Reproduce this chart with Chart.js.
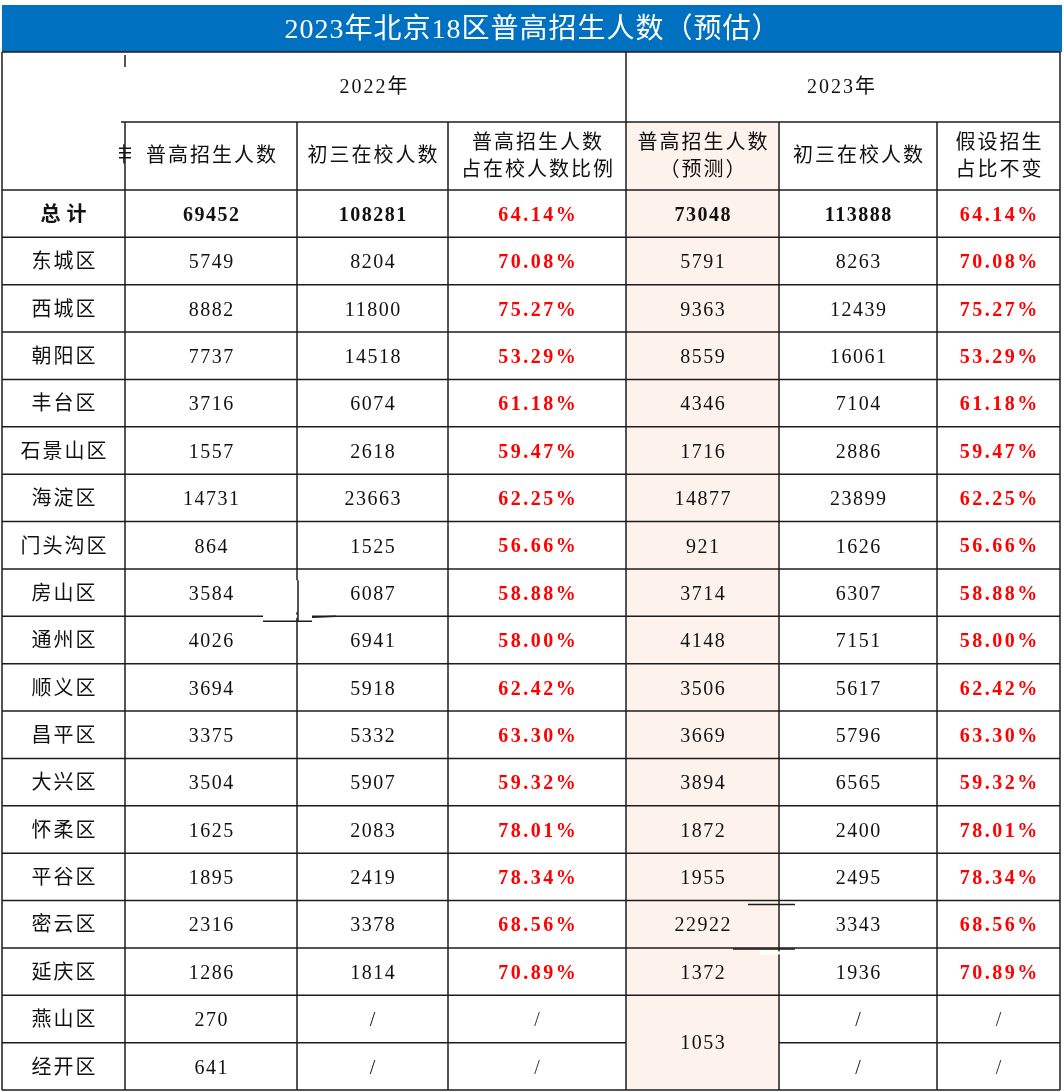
<!DOCTYPE html>
<html>
<head>
<meta charset="utf-8">
<script src="https://cdn.jsdelivr.net/npm/chart.js@4.4.0/dist/chart.umd.min.js"></script>
<style>
  html, body { margin: 0; padding: 0; background: #fff; }
  canvas { display: block; }
</style>
</head>
<body>
<canvas id="tableChart" width="1064" height="1092"></canvas>
<script>
const title = '2023年北京18区普高招生人数（预估）';
const yearLabels = ['2022年', '2023年'];
const columnHeaders = [
  [],
  ['普高招生人数'],
  ['初三在校人数'],
  ['普高招生人数', '占在校人数比例'],
  ['普高招生人数', '（预测）'],
  ['初三在校人数'],
  ['假设招生', '占比不变']
];
const districts = ['总计', '东城区', '西城区', '朝阳区', '丰台区', '石景山区', '海淀区', '门头沟区', '房山区', '通州区', '顺义区', '昌平区', '大兴区', '怀柔区', '平谷区', '密云区', '延庆区', '燕山区', '经开区'];
const enroll2022 = [69452, 5749, 8882, 7737, 3716, 1557, 14731, 864, 3584, 4026, 3694, 3375, 3504, 1625, 1895, 2316, 1286, 270, 641];
const students2022 = [108281, 8204, 11800, 14518, 6074, 2618, 23663, 1525, 6087, 6941, 5918, 5332, 5907, 2083, 2419, 3378, 1814, null, null];
const ratio2022 = [64.14, 70.08, 75.27, 53.29, 61.18, 59.47, 62.25, 56.66, 58.88, 58.00, 62.42, 63.30, 59.32, 78.01, 78.34, 68.56, 70.89, null, null];
// last value is shared by 燕山区 + 经开区 (merged cell)
const enroll2023 = [73048, 5791, 9363, 8559, 4346, 1716, 14877, 921, 3714, 4148, 3506, 3669, 3894, 1872, 1955, 22922, 1372, 1053];
const students2023 = [113888, 8263, 12439, 16061, 7104, 2886, 23899, 1626, 6307, 7151, 5617, 5796, 6565, 2400, 2495, 3343, 1936, null, null];
const ratio2023 = [64.14, 70.08, 75.27, 53.29, 61.18, 59.47, 62.25, 56.66, 58.88, 58.00, 62.42, 63.30, 59.32, 78.01, 78.34, 68.56, 70.89, null, null];

// layout (scale units)
const colEdges = [2, 125, 297, 448, 626, 779, 937, 1060];
const titleTop = 5, headTop = 52, headMid = 122, bodyTop = 190, bodyBottom = 1090;
const rowH = (bodyBottom - bodyTop) / districts.length;

const FONT = '"Liberation Serif", "Noto Sans CJK SC", serif';
const LINE = '#1c1c1c';

const fmtNum = v => v === null || v === undefined ? '/' : String(v);
const fmtPct = v => v === null || v === undefined ? '/' : v.toFixed(2) + '%';

const tablePlugin = {
  id: 'tablePlugin',
  afterDraw(chart) {
    const ctx = chart.ctx;
    const xs = chart.scales.x, ys = chart.scales.y;
    const X = v => xs.getPixelForValue(v);
    const Y = v => ys.getPixelForValue(v);
    const rowTop = i => bodyTop + i * rowH;
    const colMid = c => (colEdges[c] + colEdges[c + 1]) / 2;

    ctx.save();

    // title bar
    ctx.fillStyle = '#0070c0';
    ctx.fillRect(X(colEdges[0]), Y(titleTop), X(colEdges[7] + 2) - X(colEdges[0]), Y(headTop) - Y(titleTop));

    // highlighted forecast column
    ctx.fillStyle = '#fdf3ec';
    ctx.fillRect(X(colEdges[4]), Y(headMid), X(colEdges[5]) - X(colEdges[4]), Y(bodyBottom) - Y(headMid));

    const text = (s, x, y, opt = {}) => {
      ctx.font = `${opt.weight || 'normal'} ${opt.size || 20}px ${FONT}`;
      ctx.fillStyle = opt.color || '#111';
      ctx.letterSpacing = (opt.spacing || 0) + 'px';
      ctx.textAlign = 'center';
      ctx.textBaseline = 'middle';
      ctx.fillText(s, X(x) + (opt.spacing || 0) / 2, Y(y));
    };

    // title
    text(title, 532, 31, { size: 28, color: '#ffffff', spacing: 1 });

    // year headers
    text(yearLabels[0], (colEdges[1] + colEdges[4]) / 2 - 2, 88, { size: 20, spacing: 2 });
    text(yearLabels[1], (colEdges[4] + colEdges[7]) / 2 - 2, 88, { size: 20, spacing: 2 });

    // column headers
    columnHeaders.forEach((lines, c) => {
      if (!lines.length) return;
      const mid = (headMid + bodyTop) / 2 + 1;
      if (lines.length === 1) {
        text(lines[0], colMid(c), mid, { size: 20, spacing: 2 });
      } else {
        text(lines[0], colMid(c), mid - 13, { size: 20, spacing: 2 });
        text(lines[1], colMid(c), mid + 14, { size: 20, spacing: 2 });
      }
    });

    // clipped glyph left over at the edge of the first header cell
    ctx.save();
    ctx.beginPath();
    ctx.rect(X(119), Y(140), X(131) - X(119), 32);
    ctx.clip();
    text('丰', 124, 157, { size: 20 });
    ctx.restore();

    // body rows
    districts.forEach((name, i) => {
      const y = rowTop(i) + rowH / 2 + 2;
      const bold = i === 0;
      const w = bold ? 'bold' : 'normal';
      text(name, colMid(0), y, { weight: w, spacing: bold ? 6 : 2 });
      text(fmtNum(enroll2022[i]), colMid(1), y, { weight: w, spacing: 1.5 });
      text(fmtNum(students2022[i]), colMid(2), y, { weight: w, spacing: 1.5 });
      const r1 = ratio2022[i] !== null;
      text(fmtPct(ratio2022[i]), colMid(3), y, { color: r1 ? '#ff0000' : '#333', weight: r1 ? 'bold' : 'normal', spacing: r1 ? 2.5 : 0 });
      if (i < enroll2023.length) {
        const merged = i === enroll2023.length - 1 && districts.length > enroll2023.length;
        const yy = merged ? rowTop(i) + rowH + 1 : y;
        text(fmtNum(enroll2023[i]), colMid(4), yy, { weight: w, spacing: 1.5 });
      }
      text(fmtNum(students2023[i]), colMid(5), y, { weight: w, spacing: 1.5 });
      const r2 = ratio2023[i] !== null;
      text(fmtPct(ratio2023[i]), colMid(6), y, { color: r2 ? '#ff0000' : '#333', weight: r2 ? 'bold' : 'normal', spacing: r2 ? 2.5 : 0 });
    });

    // grid
    ctx.strokeStyle = LINE;
    ctx.lineWidth = 1.5;
    const line = (x1, y1, x2, y2) => {
      ctx.beginPath();
      ctx.moveTo(X(x1), Y(y1));
      ctx.lineTo(X(x2), Y(y2));
      ctx.stroke();
    };
    // outer frame
    line(colEdges[0], headTop, colEdges[7], headTop);
    line(colEdges[0], headTop, colEdges[0], bodyBottom);
    line(colEdges[7], headTop, colEdges[7], bodyBottom);
    line(colEdges[0], bodyBottom, colEdges[7], bodyBottom);
    // header split
    line(colEdges[4], headTop, colEdges[4], headMid);
    line(colEdges[1], headTop + 3, colEdges[1], headTop + 15);
    line(colEdges[1] - 4, headMid, colEdges[7], headMid);
    for (let c = 1; c < 7; c++) line(colEdges[c], headMid, colEdges[c], bodyBottom);
    // row lines
    for (let i = 0; i < districts.length; i++) {
      const yl = rowTop(i);
      if (i === enroll2023.length) {
        line(colEdges[0], yl, colEdges[4], yl);
        line(colEdges[5], yl, colEdges[7], yl);
      } else {
        line(colEdges[0], yl, colEdges[7], yl);
      }
    }

    // hand-drawn touch-up strokes visible in the source image
    const y9 = rowTop(9);
    ctx.strokeStyle = '#fff';
    ctx.lineWidth = 3;
    line(263, y9, 312, y9);
    line(colEdges[2], y9 - 36, colEdges[2], y9 - 4);
    ctx.strokeStyle = LINE;
    ctx.lineWidth = 1.5;
    line(263, y9 + 5, 312, y9 + 5);
    line(312, y9 + 1, 336, y9);
    line(colEdges[2] + 1, y9 - 36, colEdges[2] + 1, y9 + 5);
    const y15 = rowTop(15), y16 = rowTop(16);
    line(748, y15 + 4, 795, y15 + 4);
    line(733, y16 + 1, 795, y16 + 1);
    ctx.strokeStyle = '#fff';
    ctx.lineWidth = 3;
    line(760, y16 + 5, 781, y16 + 5);
    ctx.restore();
  }
};

const chart = new Chart(document.getElementById('tableChart').getContext('2d'), {
  type: 'scatter',
  data: { datasets: [{ data: [] }] },
  options: {
    responsive: false,
    animation: false,
    devicePixelRatio: 1,
    events: [],
    layout: { padding: 0 },
    plugins: { legend: { display: false }, tooltip: { enabled: false } },
    scales: {
      x: { type: 'linear', min: 0, max: 1064, display: false },
      y: { type: 'linear', min: 0, max: 1092, reverse: true, display: false }
    }
  },
  plugins: [tablePlugin]
});
</script>
</body>
</html>
